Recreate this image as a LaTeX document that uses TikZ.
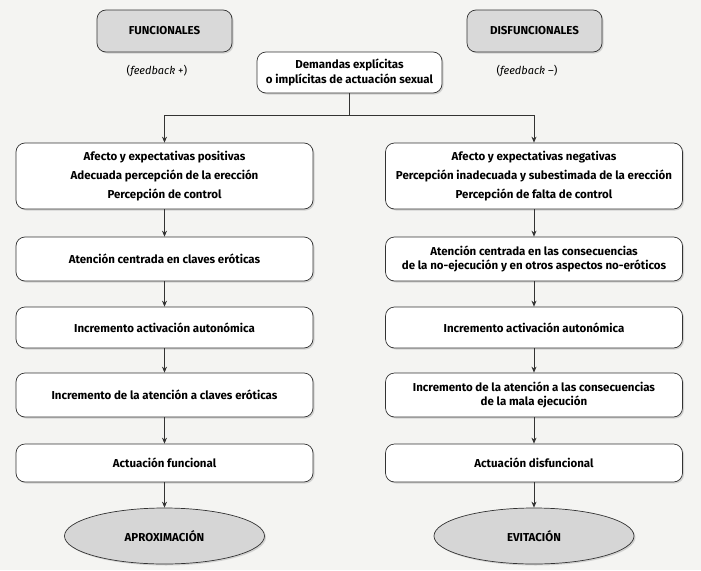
\documentclass[tikz,border=0pt]{standalone}
\usepackage{fontspec}
\setmainfont{Fira Sans}
\usetikzlibrary{shadows,shapes.geometric,arrows.meta}
\definecolor{bgcolor}{HTML}{F4F4F2}
\definecolor{headcolor}{HTML}{D9D9D9}
\definecolor{endcolor}{HTML}{D6D6D6}
\definecolor{linecolor}{HTML}{333333}

\begin{document}
\begin{tikzpicture}[x=1pt, y=-1pt, font=\fontsize{11.5}{19}\selectfont\bfseries,
    box/.style={draw=linecolor, line width=0.7pt, rounded corners=9pt, fill=white, align=center,
        inner sep=0pt, drop shadow={shadow xshift=1.5pt, shadow yshift=-1.5pt, fill=black!30}},
    headbox/.style={box, fill=headcolor, minimum width=135pt, minimum height=42pt},
    stepbox/.style={box, minimum width=297pt},
    twoline/.style={font=\fontsize{11.5}{14.5}\selectfont\bfseries},
    goal/.style={ellipse, draw=linecolor, line width=0.7pt, fill=endcolor, minimum width=200pt,
        minimum height=56pt, inner sep=0pt,
        drop shadow={shadow xshift=1.5pt, shadow yshift=-1.5pt, fill=black!30}},
    flow/.style={-{Stealth[length=6pt, width=5pt]}, line width=0.7pt, linecolor}]
    \fill[bgcolor] (0,0) rectangle (701,570);
    \useasboundingbox (0,0) rectangle (701,570);

    \node[headbox] (fun) at (164.5,31) {FUNCIONALES};
    \node[headbox] (dis) at (534.5,31) {DISFUNCIONALES};
    \node[font=\fontsize{11}{12}\selectfont] (funfb) at (157,71) {(\textit{feedback} +)};
    \node[font=\fontsize{11}{12}\selectfont] (disfb) at (527,71) {(\textit{feedback} --)};
    \node[box, twoline, minimum width=185pt, minimum height=41pt]
        (dem) at (349.5,72.5) {Demandas explícitas\\o implícitas de actuación sexual};

    % functional branch
    \node[stepbox, minimum height=66pt] (fa) at (164.5,176) {Afecto y expectativas positivas\\Adecuada percepción de la erección\\Percepción de control};
    \node[stepbox, minimum height=44pt] (fb) at (164.5,259) {Atención centrada en claves eróticas};
    \node[stepbox, minimum height=41pt] (fc) at (164.5,327.5) {Incremento activación autonómica};
    \node[stepbox, minimum height=44pt] (fd) at (164.5,395) {Incremento de la atención a claves eróticas};
    \node[stepbox, minimum height=38pt] (fe) at (164.5,463) {Actuación funcional};
    \node[goal] (fend) at (164.5,536) {APROXIMACIÓN};

    % dysfunctional branch
    \node[stepbox, minimum height=66pt] (da) at (534,176) {Afecto y expectativas negativas\\Percepción inadecuada y subestimada de la erección\\Percepción de falta de control};
    \node[stepbox, twoline, minimum height=44pt] (db) at (534,259) {Atención centrada en las consecuencias\\de la no-ejecución y en otros aspectos no-eróticos};
    \node[stepbox, minimum height=41pt] (dc) at (534,327.5) {Incremento activación autonómica};
    \node[stepbox, twoline, minimum height=44pt] (dd) at (534,395) {Incremento de la atención a las consecuencias\\de la mala ejecución};
    \node[stepbox, minimum height=38pt] (de) at (534,463) {Actuación disfuncional};
    \node[goal] (dend) at (534,536) {EVITACIÓN};

    \coordinate (split) at (349.5,115);
    \draw[line width=0.7pt, linecolor] (dem.south) -- (split);
    \draw[flow] (split) -| (fa.north);
    \draw[flow] (split) -| (da.north);
    \foreach \a/\b in {fa/fb, fb/fc, fc/fd, fd/fe, fe/fend, da/db, db/dc, dc/dd, dd/de, de/dend}
        \draw[flow] (\a) -- (\b);
\end{tikzpicture}
\end{document}
